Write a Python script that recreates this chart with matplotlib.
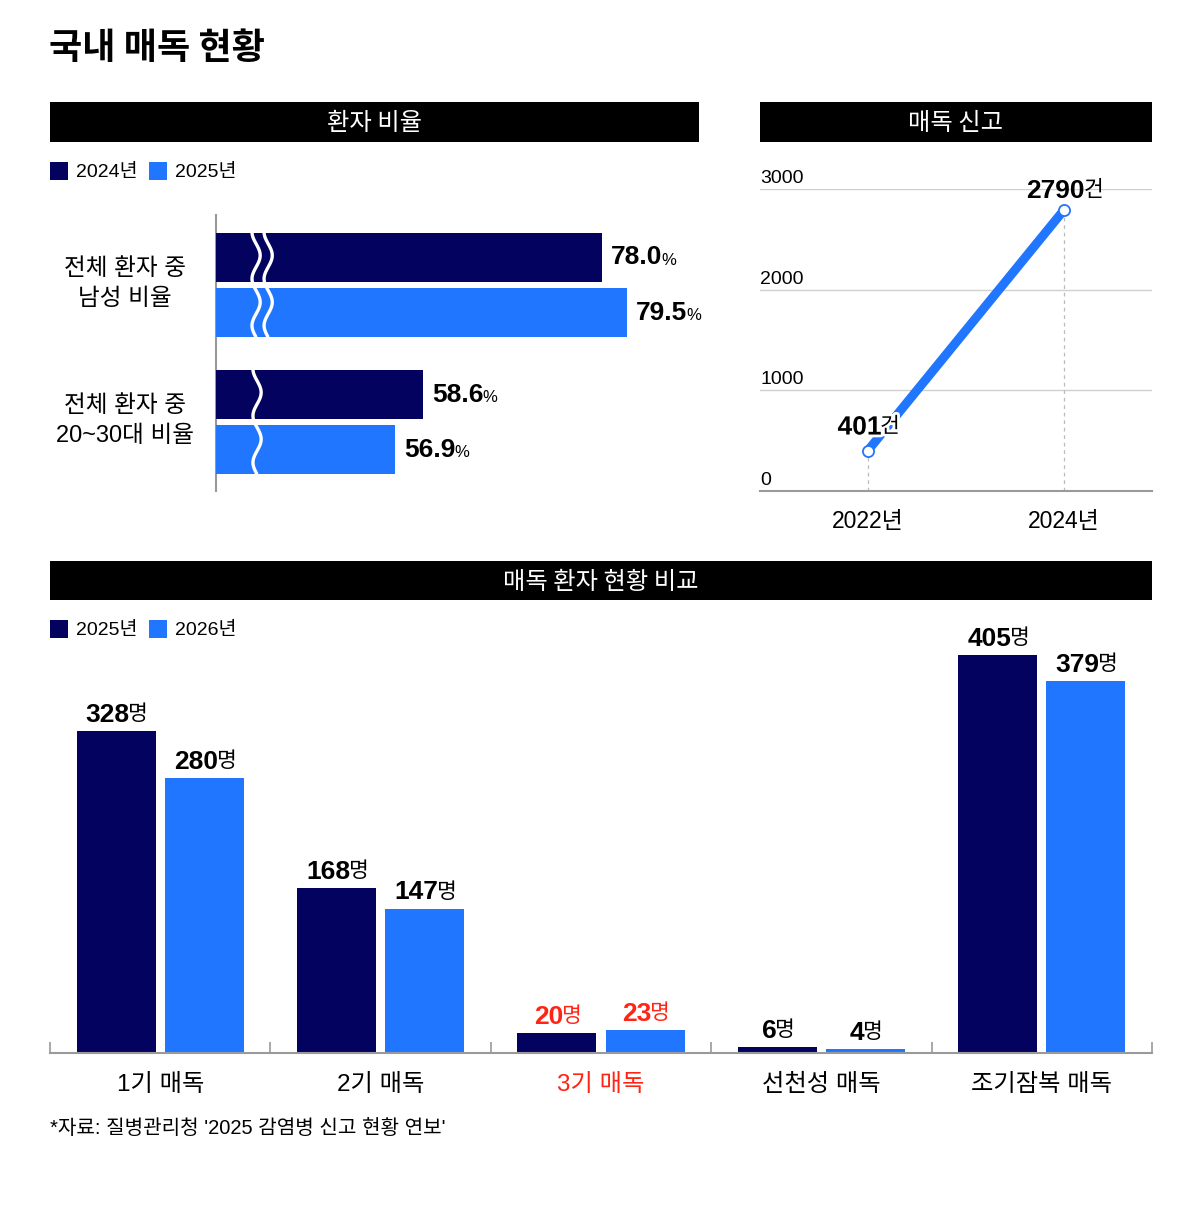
import matplotlib
matplotlib.use("Agg")
import matplotlib.pyplot as plt
import numpy as np
from matplotlib.patches import Rectangle
from matplotlib.transforms import blended_transform_factory
import matplotlib.patheffects as pe

# ---------------- data ----------------
title = "국내 매독 현황"
ratio_header = "환자 비율"
ratio_years = ["2024년", "2025년"]
ratio_categories = ["전체 환자 중\n남성 비율", "전체 환자 중\n20~30대 비율"]
male_ratio = [78.0, 79.5]
young_ratio = [58.6, 56.9]

report_header = "매독 신고"
report_years = ["2022년", "2024년"]
report_counts = [401, 2790]
report_yticks = [0, 1000, 2000, 3000]

compare_header = "매독 환자 현황 비교"
compare_years = ["2025년", "2026년"]
stage_labels = ["1기 매독", "2기 매독", "3기 매독", "선천성 매독", "조기잠복 매독"]
patients_2025 = [328, 168, 20, 6, 405]
patients_2026 = [280, 147, 23, 4, 379]
highlight_stage = "3기 매독"

source_note = "*자료: 질병관리청 '2025 감염병 신고 현황 연보'"

# ---------------- style ----------------
DARK = "#03035F"
BLUE = "#2176FF"
RED = "#FF2414"
GRID = "#D0D0D0"
AXIS = "#9A9A9A"
KR = ["Noto Sans CJK KR", "DejaVu Sans"]
MIX = ["Liberation Sans", "Noto Sans CJK KR", "DejaVu Sans"]
NUMB = ["Liberation Sans Narrow", "Liberation Sans", "DejaVu Sans"]

W, H = 1200, 1209
fig = plt.figure(figsize=(W / 100, H / 100), dpi=100)
fig.patch.set_facecolor("white")


def rect(x0, y0, x1, y1):
    return [x0 / W, 1 - y1 / H, (x1 - x0) / W, (y1 - y0) / H]


def fx(x):
    return x / W


def fy(y):
    return 1 - y / H


def header(x0, x1, y0, y1, text, size=17.5):
    fig.add_artist(Rectangle((fx(x0), fy(y1)), fx(x1) - fx(x0), fy(y0) - fy(y1),
                             transform=fig.transFigure, facecolor="black", edgecolor="none"))
    fig.text(fx((x0 + x1) / 2), fy((y0 + y1) / 2 + 1.5), text, color="white", ha="center",
             va="center", fontsize=size, family=KR)


def legend(x, y, labels):
    xs = [x, x + 99]
    for xi, lab, col in zip(xs, labels, [DARK, BLUE]):
        fig.add_artist(Rectangle((fx(xi), fy(y + 9)), 18 / W, 18 / H,
                                 transform=fig.transFigure, facecolor=col, edgecolor="none"))
        fig.text(fx(xi + 26), fy(y + 1.5), lab, ha="left", va="center", fontsize=14, family=MIX)


def value_label(ax, x, y, num, unit, dx, dy, color="black", numsize=19, unitsize=15.5,
                ha="center", va="bottom", unit_family=KR, stroke=False, gap=-1.0):
    kw = {}
    if stroke:
        kw["path_effects"] = [pe.withStroke(linewidth=4, foreground="white")]
    t = ax.annotate(num, (x, y), xytext=(dx, dy), textcoords="offset points", ha=ha, va=va,
                    fontsize=numsize, fontweight="bold", family=NUMB, color=color,
                    annotation_clip=False, **kw)
    ax.annotate(unit, xy=(1.0, 0.08), xycoords=t, xytext=(gap, 0), textcoords="offset points",
                ha="left", va="bottom", fontsize=unitsize,
                family=unit_family, color=color, annotation_clip=False, **kw)
    return t


# ---------------- title ----------------
fig.text(fx(49), fy(49), title, ha="left", va="center", fontsize=26, fontweight="bold", family=KR)

# ---------------- patient ratio (top-left) ----------------
header(50, 699, 102, 142, ratio_header)
legend(50, 171, ratio_years)

frame = fig.add_axes(rect(216, 215, 699, 491))
frame.set_xlim(0, 1)
frame.set_ylim(0, 1)
frame.axis("off")
frame.plot([0, 0], [0, 1], color=AXIS, lw=1.5, transform=frame.transAxes, clip_on=False)

px_per_unit = 16.5
axes_px = 699 - 216
group_specs = [
    (male_ratio, 54.62, (230, 340), [0.083, 0.108], ratio_categories[0]),
    (young_ratio, 46.06, (367, 477), [0.085], ratio_categories[1]),
]
for values, origin, (ya, yb), waves, cat in group_specs:
    ax = fig.add_axes(rect(216, ya, 699, yb))
    ax.set_xlim(origin, origin + axes_px / px_per_unit)
    ax.set_ylim(1.5, -0.5)
    ax.axis("off")
    ax.barh([0, 1], np.array(values) - origin, height=0.89, left=origin, color=[DARK, BLUE])
    tr = blended_transform_factory(ax.transAxes, ax.transData)
    yy = np.linspace(-0.45, 1.45, 300)
    for wx in waves:
        xx = wx + 0.0085 * np.sin(2 * np.pi * (yy + 0.25) / 0.85)
        ax.plot(xx, yy, color="white", lw=2.4, transform=tr, clip_on=False, solid_capstyle="butt")
    for i, v in enumerate(values):
        value_label(ax, v, i, f"{v:.1f}", "%", 6.5, 0, ha="left", va="center",
                    unit_family=NUMB, unitsize=12, gap=-0.5)
    fig.text(fx(125), fy((ya + yb) / 2 - 1), cat, ha="center", va="center", fontsize=17,
             family=MIX, linespacing=1.42)

# ---------------- report line (top-right) ----------------
header(760, 1152, 102, 142, report_header)
axl = fig.add_axes(rect(760, 189, 1152, 491))
x_idx = np.arange(len(report_counts))
axl.set_xlim(-0.55, 1.45)
axl.set_ylim(0, 3000)
for s in ["top", "right", "left"]:
    axl.spines[s].set_visible(False)
axl.spines["bottom"].set_color(AXIS)
axl.spines["bottom"].set_linewidth(1.5)
axl.set_yticks(report_yticks)
axl.tick_params(axis="y", length=0, labelleft=False)
for v in report_yticks[1:]:
    axl.axhline(v, color=GRID, lw=1.0, zorder=0)
ytr = blended_transform_factory(axl.transAxes, axl.transData)
for v in report_yticks:
    axl.annotate(str(v), (0, v), xycoords=ytr, xytext=(0, 1.5), textcoords="offset points",
                 ha="left", va="bottom", fontsize=14, family=MIX)
axl.set_xticks(x_idx, report_years)
axl.tick_params(axis="x", length=0, pad=14, labelsize=16.5)
for lab in axl.get_xticklabels():
    lab.set_family(MIX)
axl.vlines(x_idx, 0, report_counts, colors="#BBBBBB", linestyles=(0, (3, 3)), lw=0.9, zorder=1)
axl.plot(x_idx, report_counts, color=BLUE, lw=6.5, solid_capstyle="butt", zorder=3)
axl.plot(x_idx, report_counts, "o", ms=8, mfc="white", mec=BLUE, mew=1.3, zorder=4)
value_label(axl, x_idx[1], report_counts[1], f"{report_counts[1]}", "건", -6, 5.5)
value_label(axl, x_idx[0], report_counts[0], f"{report_counts[0]}", "건", -6, 8, stroke=True)

# ---------------- comparison bars (bottom) ----------------
header(50, 1152, 561, 600, compare_header)
legend(50, 629, compare_years)

axb = fig.add_axes(rect(50, 611, 1152, 1053))
n = len(stage_labels)
xc = np.arange(n)
axb.set_xlim(-0.5, n - 0.5)
axb.set_ylim(0, 450)
for s in ["top", "right", "left"]:
    axb.spines[s].set_visible(False)
axb.spines["bottom"].set_color(AXIS)
axb.spines["bottom"].set_linewidth(1.5)
axb.set_yticks([])
bw = 0.358
off = 0.2
axb.bar(xc - off, patients_2025, width=bw, color=DARK)
axb.bar(xc + off, patients_2026, width=bw, color=BLUE)
axb.set_xticks(xc, stage_labels)
axb.set_xticks(np.arange(-0.5, n, 1.0), minor=True)
axb.tick_params(axis="x", which="major", length=0, pad=15, labelsize=17.5)
axb.tick_params(axis="x", which="minor", direction="in", length=8, color=AXIS, width=1.2)
for lab in axb.get_xticklabels():
    lab.set_family(MIX)
    if lab.get_text() == highlight_stage:
        lab.set_color(RED)
for i, lab in enumerate(stage_labels):
    col = RED if lab == highlight_stage else "black"
    for xv, v in [(xc[i] - off, patients_2025[i]), (xc[i] + off, patients_2026[i])]:
        value_label(axb, xv, v, f"{v}", "명", -6, 3, color=col)

fig.text(fx(50), fy(1129), source_note, ha="left", va="center", fontsize=14.5, family=MIX)

fig.savefig("out.png", dpi=100, facecolor="white")
